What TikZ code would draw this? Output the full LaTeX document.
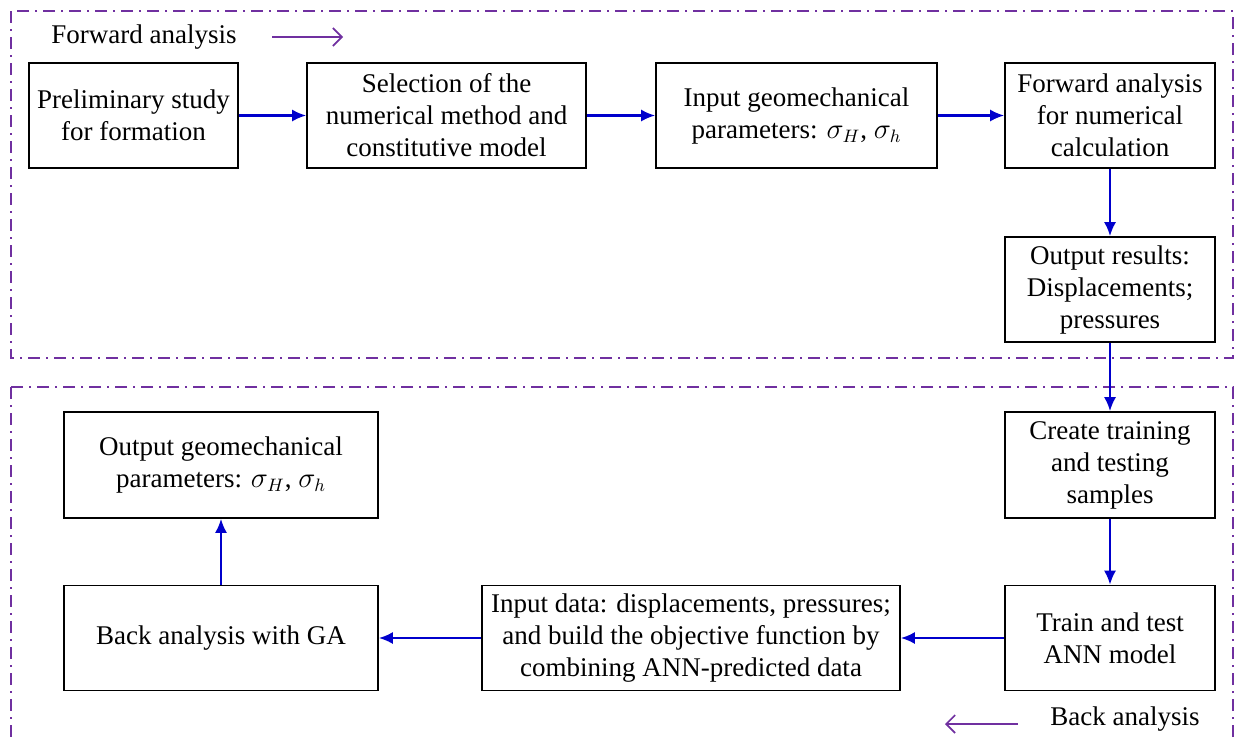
\documentclass[tikz,border=0pt]{standalone}
\usepackage{fontspec}
\setmainfont{Liberation Serif}
\usepackage{amsmath}
\usetikzlibrary{arrows.meta, positioning}
\definecolor{framepurple}{RGB}{112,48,160}
\definecolor{linkblue}{RGB}{0,0,204}

\begin{document}
\begin{tikzpicture}[x=0.5pt, y=-0.5pt,
    box/.style={draw, line width=0.8pt, align=center, minimum height=52.5pt, inner sep=2pt, font=\fontsize{13.5}{16}\selectfont},
    link/.style={draw=linkblue, line width=1.1pt, -{Latex[length=7pt, width=6pt]}},
    frame/.style={draw=framepurple, line width=0.8pt, dash pattern=on 6pt off 3pt on 1pt off 3pt},
    dirarrow/.style={draw=framepurple, line width=0.8pt, -{Straight Barb[length=4.5pt, width=9pt]}},
    lbl/.style={font=\fontsize{13.5}{16}\selectfont}]
    \clip (0,0) rectangle (1235,740);
    % dash-dot frames
    \draw[frame] (11,11) rectangle (1233,358);
    \draw[frame] (11,387) rectangle (1233,770);
    % forward analysis row
    \node[box, minimum width=104.5pt] (prelim) at (133.5,115.5) {Preliminary study\\for formation};
    \node[box, minimum width=139.5pt] (select) at (446.5,115.5) {Selection of the\\numerical method and\\constitutive model};
    \node[box, minimum width=140.5pt] (inparam) at (796.5,115.5) {Input geomechanical\\parameters: $\sigma_H$, $\sigma_h$};
    \node[box, minimum width=105pt] (fwdcalc) at (1110,115.5) {Forward analysis\\for numerical\\calculation};
    \node[box, minimum width=105pt] (results) at (1110,289.5) {Output results:\\Displacements;\\pressures};
    % back analysis row
    \node[box, minimum width=105pt, minimum height=53pt] (samples) at (1110,465) {Create training\\and testing\\samples};
    \node[box, minimum width=105pt] (ann) at (1110,638) {Train and test\\ANN model};
    \node[box, minimum width=209pt] (indata) at (691,638) {Input data: displacements, pressures;\\and build the objective function by\\combining ANN-predicted data};
    \node[box, minimum width=157pt] (ga) at (221,638) {Back analysis with GA};
    \node[box, minimum width=157pt, minimum height=53pt] (outparam) at (221,465) {Output geomechanical\\parameters: $\sigma_H$, $\sigma_h$};
    % connectors
    \draw[link] (prelim) -- (select);
    \draw[link] (select) -- (inparam);
    \draw[link] (inparam) -- (fwdcalc);
    \draw[link] (fwdcalc) -- (results);
    \draw[link] (results) -- (samples);
    \draw[link] (samples) -- (ann);
    \draw[link] (ann) -- (indata);
    \draw[link] (indata) -- (ga);
    \draw[link] (ga) -- (outparam);
    % direction labels
    \node[lbl] (fwdlabel) at (144,37) {Forward analysis};
    \coordinate (fwdstart) at (272,37);
    \coordinate (fwdend) at (343,37);
    \draw[dirarrow] (fwdstart) -- (fwdend);
    \node[lbl] (backlabel) at (1125,719) {Back analysis};
    \coordinate (backstart) at (1018,724);
    \coordinate (backend) at (945,724);
    \draw[dirarrow] (backstart) -- (backend);
\end{tikzpicture}
\end{document}
